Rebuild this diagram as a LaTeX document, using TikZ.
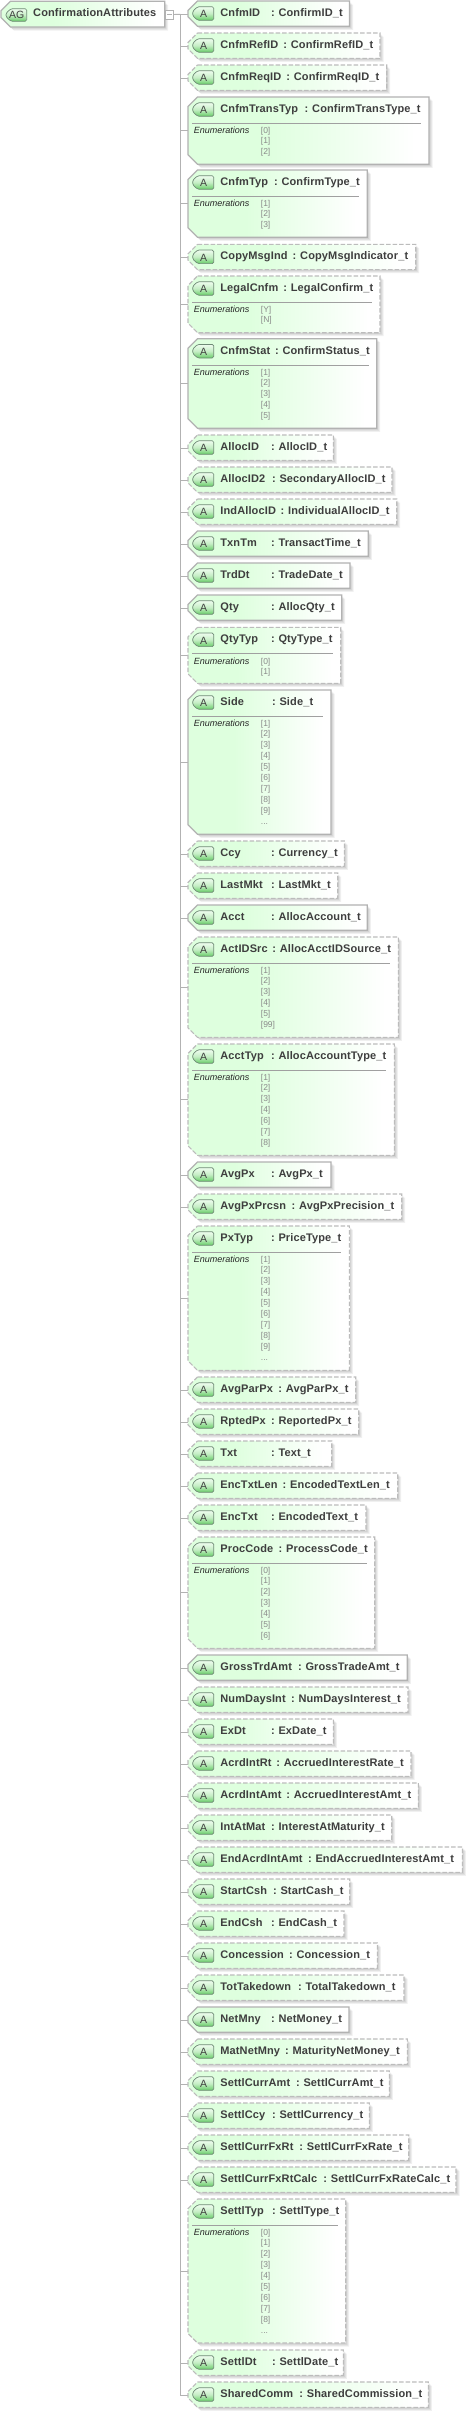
\documentclass[tikz,border=0pt]{standalone}
\usepackage{fontspec}
\newfontfamily\lblfont[LetterSpace=1.2]{Liberation Sans}
\newfontfamily\enumfont{Liberation Sans}
\definecolor{edgegrey}{HTML}{B2B2B2}
\definecolor{dashgrey}{HTML}{BCBCBC}
\definecolor{boxgreen}{HTML}{DEFFDE}
\definecolor{taglight}{HTML}{EAFBEA}
\definecolor{tagdark}{HTML}{6FCF6F}
\definecolor{tagedge}{HTML}{6F8A76}
\definecolor{txtgrey}{HTML}{3E3E3E}
\definecolor{valgrey}{HTML}{8A8A8A}
\newcommand{\elp}{...}
\pgfdeclarehorizontalshading{boxfade}{100bp}{color(0bp)=(boxgreen); color(25bp)=(boxgreen); color(41bp)=(boxgreen); color(72bp)=(white); color(100bp)=(white)}
\pgfdeclareverticalshading{tagfade}{100bp}{color(0bp)=(tagdark); color(27bp)=(tagdark); color(50bp)=(taglight!70!tagdark); color(72bp)=(taglight); color(100bp)=(taglight)}
\tikzset{
  x=1pt,y=-1pt,
  solidedge/.style={draw=edgegrey,line width=1.2pt},
  dashedge/.style={draw=dashgrey,line width=1.1pt,dash pattern=on 4.5pt off 2pt},
  conn/.style={draw=edgegrey,line width=0.9pt},
  softshadow/.style={fill=black,opacity=0.06,draw=none},
  nametext/.style={anchor=base west,inner sep=0pt,text=txtgrey,font=\lblfont\bfseries\fontsize{11}{12}\selectfont},
  enumhead/.style={anchor=base west,inner sep=0pt,text=black!85,font=\enumfont\itshape\fontsize{9}{10}\selectfont},
  enumval/.style={anchor=base west,inner sep=0pt,text=valgrey,font=\enumfont\fontsize{8.5}{10}\selectfont},
  tagtext/.style={anchor=base,inner sep=0pt,text=black!75,font=\enumfont\fontsize{10.5}{12}\selectfont},
  toggle/.style={draw=edgegrey,line width=0.9pt,fill=white,minimum width=8.2pt,minimum height=9pt,inner sep=0pt},
}
% hexagonal box outline
\newcommand{\boxpath}[4]{(#1+9.5,#3) -- (#2,#3) -- (#2,#4) -- (#1+9.5,#4) -- (#1,#4-9.5) -- (#1,#3+9.5) -- cycle}
% box with its shadow: left right top bottom edge-style
\newcommand{\hexbox}[5]{%
  \foreach \sh in {1.5,2.5,3.5}{\fill[softshadow] \boxpath{#1+\sh}{#2+\sh}{#3+\sh}{#4+\sh};}
  \shade[shading=boxfade] \boxpath{#1}{#2}{#3}{#4};
  \draw[#5] \boxpath{#1}{#2}{#3}{#4};
}
\newcommand{\tagicon}[5]{% left right top bottom letters
  \shade[shading=tagfade,rounded corners=1.5pt] (#1+5,#3) -- (#2,#3) -- (#2,#4) -- (#1+5,#4) -- (#1,#4-4.5) -- (#1,#3+4.5) -- cycle;
  \draw[tagedge,line width=0.7pt,rounded corners=1.5pt] (#1+5,#3) -- (#2,#3) -- (#2,#4) -- (#1+5,#4) -- (#1,#4-4.5) -- (#1,#3+4.5) -- cycle;
  \node[tagtext] at ({(#1+#2)/2+0.3},#4-2.6) {#5};
}
% common head of every attribute: id, top, bottom, right, type x, edge style, type name
\newcommand{\attrhead}[7]{%
  \hexbox{188}{#4}{#2}{#3}{#6}
  \tagicon{192.7}{213.7}{#2+5.7}{#2+19.3}{A}
  \node[nametext] (name-#1) at (220.2,#2+15.4) {#1};
  \node[nametext] (colon-#1) at (#5-7.5,#2+15.4) {:};
  \node[nametext] (type-#1) at (#5,#2+15.4) {#7\_t};
}
% single row: id, top, right, type x, edge style, type name
\newcommand{\plainrow}[6]{%
  \coordinate (stub-#1) at (188,#2+13.3);
  \draw[conn] (spine |- stub-#1) -- (stub-#1);
  \attrhead{#1}{#2}{#2+25.3}{#3}{#4}{#5}{#6}
}
% enumeration row: id, top, bottom, right, type x, edge style, type name, stem y, values
\newcommand{\enumrow}[9]{%
  \coordinate (stub-#1) at (188,#8);
  \draw[conn] (spine |- stub-#1) -- (stub-#1);
  \attrhead{#1}{#2}{#3}{#4}{#5}{#6}{#7}
  \draw[edgegrey!90!black,line width=0.9pt] (192,#2+26.3) -- (#4-8,#2+26.3);
  \node[enumhead] (enum-#1) at (193.7,#2+36.7) {Enumerations};
  \foreach \v [count=\k] in {#9}{%
    \pgfmathsetmacro{\vy}{#2+36.8+(\k>1 ? 10 : 0)+(\k>2 ? 11*(\k-2) : 0)}
    \node[enumval] (val-#1-\k) at (260.7,\vy) {\v};
  }
}
\begin{document}
\begin{tikzpicture}
\useasboundingbox (0,0) rectangle (466,2412);
\fill[white] (0,0) rectangle (466,2412);
\coordinate (spine) at (180.3,14.3);
\coordinate (spineend) at (180.3,2395.7);
\draw[conn] (spine) -- (spineend);

\hexbox{1}{164.7}{1.3}{27}{solidedge}
\tagicon{6}{26.7}{8.7}{21.3}{AG}
\node[nametext] (group) at (33,16.3) {ConfirmationAttributes};
\node[toggle] (tog) at (169.4,14.6) {};
\draw[edgegrey,line width=0.9pt] (167,14.6) -- (171.8,14.6);
\draw[conn] (tog) -- (spine);

\plainrow{CnfmID}{1}{349.5}{278.3}{solidedge}{ConfirmID}
\plainrow{CnfmRefID}{33}{380}{290.7}{dashedge}{ConfirmRefID}
\plainrow{CnfmReqID}{65}{386.7}{293.7}{dashedge}{ConfirmReqID}
\enumrow{CnfmTransTyp}{97}{164.3}{429}{312}{solidedge}{ConfirmTransType}{130.3}{[0],[1],[2]}
\enumrow{CnfmTyp}{170}{237.3}{367.3}{281.3}{solidedge}{ConfirmType}{203}{[1],[2],[3]}
\plainrow{CopyMsgInd}{244.3}{415.7}{300}{dashedge}{CopyMsgIndicator}
\enumrow{LegalCnfm}{276}{332.7}{380}{290.7}{dashedge}{LegalConfirm}{304.3}{[Y],[N]}
\enumrow{CnfmStat}{338.7}{428.3}{376.7}{282.3}{solidedge}{ConfirmStatus}{383}{[1],[2],[3],[4],[5]}
\plainrow{AllocID}{435}{333.3}{278.3}{dashedge}{AllocID}
\plainrow{AllocID2}{467}{392}{279.3}{dashedge}{SecondaryAllocID}
\plainrow{IndAllocID}{499}{396.7}{288}{dashedge}{IndividualAllocID}
\plainrow{TxnTm}{531}{368.3}{278.3}{solidedge}{TransactTime}
\plainrow{TrdDt}{563}{350}{278.3}{solidedge}{TradeDate}
\plainrow{Qty}{595}{341.7}{278.3}{solidedge}{AllocQty}
\enumrow{QtyTyp}{627.3}{683.3}{340.7}{278.3}{dashedge}{QtyType}{655}{[0],[1]}
\enumrow{Side}{690}{834.3}{331}{279.3}{solidedge}{Side}{762.3}{[1],[2],[3],[4],[5],[6],[7],[8],[9],\elp}
\plainrow{Ccy}{841}{344.3}{278.3}{dashedge}{Currency}
\plainrow{LastMkt}{873}{337.7}{278.3}{dashedge}{LastMkt}
\plainrow{Acct}{905}{367.3}{278.3}{solidedge}{AllocAccount}
\enumrow{ActIDSrc}{937}{1037.3}{398.3}{279.7}{dashedge}{AllocAcctIDSource}{987.3}{[1],[2],[3],[4],[5],[99]}
\enumrow{AcctTyp}{1044}{1155.3}{394.3}{278.3}{dashedge}{AllocAccountType}{1099.3}{[1],[2],[3],[4],[6],[7],[8]}
\plainrow{AvgPx}{1162}{331}{278.3}{solidedge}{AvgPx}
\plainrow{AvgPxPrcsn}{1194}{401.7}{299}{dashedge}{AvgPxPrecision}
\enumrow{PxTyp}{1226}{1370.3}{349.3}{278.3}{dashedge}{PriceType}{1298.3}{[1],[2],[3],[4],[5],[6],[7],[8],[9],\elp}
\plainrow{AvgParPx}{1377}{355.7}{285.7}{dashedge}{AvgParPx}
\plainrow{RptedPx}{1409}{358.7}{278.3}{dashedge}{ReportedPx}
\plainrow{Txt}{1441}{331.7}{278.3}{dashedge}{Text}
\plainrow{EncTxtLen}{1473}{397.7}{290}{dashedge}{EncodedTextLen}
\plainrow{EncTxt}{1505}{366}{278.3}{dashedge}{EncodedText}
\enumrow{ProcCode}{1537}{1648.3}{374.7}{286}{dashedge}{ProcessCode}{1592.3}{[0],[1],[2],[3],[4],[5],[6]}
\plainrow{GrossTrdAmt}{1655}{407.3}{305.3}{solidedge}{GrossTradeAmt}
\plainrow{NumDaysInt}{1687}{408}{298.3}{dashedge}{NumDaysInterest}
\plainrow{ExDt}{1719}{333.3}{278.3}{dashedge}{ExDate}
\plainrow{AcrdIntRt}{1751}{411}{283.7}{dashedge}{AccruedInterestRate}
\plainrow{AcrdIntAmt}{1783}{418.3}{293.7}{dashedge}{AccruedInterestAmt}
\plainrow{IntAtMat}{1815}{391.7}{278.3}{dashedge}{InterestAtMaturity}
\plainrow{EndAcrdIntAmt}{1847}{462.3}{315.3}{dashedge}{EndAccruedInterestAmt}
\plainrow{StartCsh}{1879}{349.7}{280.3}{dashedge}{StartCash}
\plainrow{EndCsh}{1911}{344}{278.3}{dashedge}{EndCash}
\plainrow{Concession}{1943}{377.3}{296.3}{dashedge}{Concession}
\plainrow{TotTakedown}{1975}{404}{305.3}{dashedge}{TotalTakedown}
\plainrow{NetMny}{2007}{349}{278.3}{solidedge}{NetMoney}
\plainrow{MatNetMny}{2039}{407.3}{292.3}{dashedge}{MaturityNetMoney}
\plainrow{SettlCurrAmt}{2071}{389.3}{303.3}{dashedge}{SettlCurrAmt}
\plainrow{SettlCcy}{2103}{369.3}{279.3}{dashedge}{SettlCurrency}
\plainrow{SettlCurrFxRt}{2135}{408.7}{306.7}{dashedge}{SettlCurrFxRate}
\plainrow{SettlCurrFxRtCalc}{2167}{456}{330.7}{dashedge}{SettlCurrFxRateCalc}
\enumrow{SettlTyp}{2199}{2343}{345.7}{279.3}{dashedge}{SettlType}{2271}{[0],[1],[2],[3],[4],[5],[6],[7],[8],\elp}
\plainrow{SettlDt}{2350}{343.3}{279.3}{dashedge}{SettlDate}
\plainrow{SharedComm}{2382}{428.3}{306.7}{dashedge}{SharedCommission}
\end{tikzpicture}
\end{document}
